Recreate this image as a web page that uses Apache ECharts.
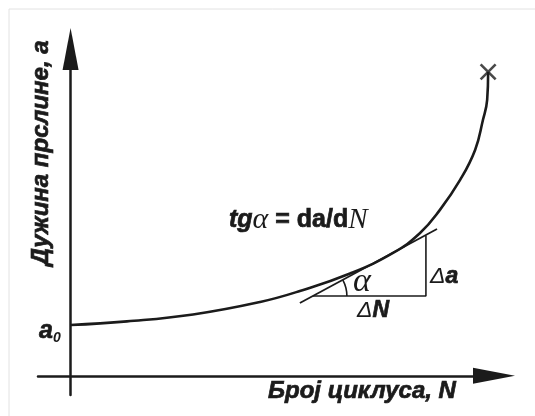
<!DOCTYPE html>
<html>
<head>
<meta charset="utf-8">
<script src="https://cdn.jsdelivr.net/npm/echarts@6/dist/echarts.min.js"></script>
<style>html,body{margin:0;padding:0;background:#fff}#c{width:535px;height:416px}</style>
</head>
<body>
<div id="c"></div>
<script>
// Crack growth curve: N (cycles) vs a (crack length), schematic units
const curveN = [0, 1.73, 3.76, 5.82, 7.04, 8.58, 9.90, 10.73, 11.34, 11.96, 12.42, 12.66, 12.79, 12.82];
const curveA = [2.64, 2.83, 3.19, 3.84, 4.41, 5.32, 6.39, 7.43, 8.63, 10.19, 11.75, 13.31, 14.35, 15.81];
const tangentN = [7.04, 11.25];
const tangentA = [3.79, 7.64];
const triangleN = [7.44, 10.91, 10.91];
const triangleA = [4.15, 4.15, 7.30];
const failurePoint = [12.82, 15.81];
const angleVertex = [7.44, 4.15];
const xLabel = 'Број циклуса, N';
const yLabel = 'Дужина прслине, a';

const zip = (a, b) => a.map((v, i) => [v, b[i]]);
const INK = '#1b1b1b';
const SANS = '"Liberation Sans", Arial, sans-serif';
const SERIF = '"Liberation Serif", "Times New Roman", serif';
const heavy = {stroke: INK, lineWidth: 0.7};

const chart = echarts.init(document.getElementById('c'), null, {renderer: 'canvas'});
chart.setOption({
  backgroundColor: '#fff',
  animation: false,
  grid: {left: 38, right: 41, top: 49, bottom: 21},
  xAxis: {
    type: 'value', min: -1, max: 13,
    axisLine: {show: true, onZero: true, symbol: ['none', 'triangle'], symbolSize: [16, 42],
      lineStyle: {color: INK, width: 2.5}},
    axisTick: {show: false}, axisLabel: {show: false}, splitLine: {show: false}
  },
  yAxis: {
    type: 'value', min: -1, max: 17,
    axisLine: {show: true, onZero: true, symbol: ['none', 'triangle'], symbolSize: [16, 42],
      lineStyle: {color: INK, width: 2.5}},
    axisTick: {show: false}, axisLabel: {show: false}, splitLine: {show: false}
  },
  series: [
    {type: 'line', data: zip(curveN, curveA), smooth: 0.45, showSymbol: false,
      lineStyle: {color: INK, width: 2.6}},
    {type: 'line', data: zip(tangentN, tangentA), showSymbol: false,
      lineStyle: {color: INK, width: 1.8}},
    {type: 'line', data: zip(triangleN, triangleA), showSymbol: false,
      lineStyle: {color: INK, width: 1.6}},
    {type: 'scatter', data: [failurePoint], symbol: 'path://M0,0L10,10M10,0L0,10', symbolSize: 15,
      itemStyle: {color: 'none', borderColor: INK, borderWidth: 2.6}},
    {type: 'custom', data: [angleVertex],
      renderItem: function (params, api) {
        const p = api.coord([api.value(0), api.value(1)]);
        return {type: 'arc', shape: {cx: p[0], cy: p[1], r: 34, startAngle: -0.49, endAngle: 0, clockwise: true},
          style: {stroke: INK, lineWidth: 1.6, fill: null}};
      }}
  ],
  graphic: [
    {type: 'rect', shape: {x: 9, y: 9, width: 540, height: 420}, style: {fill: null, stroke: '#e2e2e2', lineWidth: 1}, z: -1},
    {type: 'text', x: 41, y: 153, rotation: Math.PI / 2,
      style: Object.assign({text: yLabel, font: 'italic bold 24px ' + SANS, fill: INK, align: 'center', verticalAlign: 'middle'}, heavy)},
    {type: 'text', x: 362, y: 391,
      style: Object.assign({text: xLabel, font: 'italic bold 24px ' + SANS, fill: INK, align: 'center', verticalAlign: 'middle'}, heavy)},
    {type: 'text', x: 39, y: 331,
      style: {text: '{a|a}{s|0}', align: 'left', verticalAlign: 'middle',
        rich: {a: Object.assign({font: 'italic bold 25px ' + SANS, fill: INK}, heavy),
          s: {font: 'italic bold 14px ' + SANS, fill: INK, verticalAlign: 'bottom', padding: [14, 0, 0, 0]}}}},
    {type: 'text', x: 229, y: 220,
      style: {text: '{t|tg}{g|α}{e| = }{d|da/d}{n|N}', align: 'left', verticalAlign: 'middle',
        rich: {t: Object.assign({font: 'italic bold 25px ' + SANS, fill: INK}, heavy), g: {font: 'italic 30px ' + SERIF, fill: INK},
          e: Object.assign({font: 'bold 25px ' + SANS, fill: INK}, heavy), d: Object.assign({font: 'bold 25px ' + SANS, fill: INK}, heavy),
          n: {font: 'italic 29px ' + SERIF, fill: INK}}}},
    {type: 'text', x: 362, y: 282,
      style: {text: 'α', font: 'italic 34px ' + SERIF, fill: INK, align: 'center', verticalAlign: 'middle'}},
    {type: 'text', x: 430, y: 277,
      style: {text: '{d|Δ}{a|a}', align: 'left', verticalAlign: 'middle',
        rich: {d: {font: 'italic 23px ' + SANS, fill: INK}, a: Object.assign({font: 'italic bold 23px ' + SANS, fill: INK}, heavy)}}},
    {type: 'text', x: 373, y: 311,
      style: {text: '{d|Δ}{a|N}', align: 'center', verticalAlign: 'middle',
        rich: {d: {font: 'italic 23px ' + SANS, fill: INK}, a: Object.assign({font: 'italic bold 23px ' + SANS, fill: INK}, heavy)}}}
  ]
});
</script>
</body>
</html>
